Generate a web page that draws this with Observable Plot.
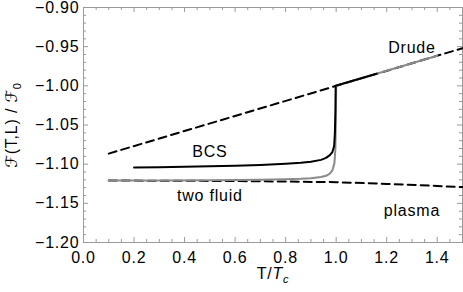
<!DOCTYPE html>
<html>
<head>
<meta charset="utf-8">
<script src="https://cdn.jsdelivr.net/npm/d3@7"></script>
<script src="https://cdn.jsdelivr.net/npm/@observablehq/plot@0.6"></script>
<style>
  html, body { margin: 0; padding: 0; background: #fff; }
</style>
</head>
<body>
<div id="chart"></div>
<script>
// Drude (dashed upper line)
const drudeT = [0.1, 1.5];
const drudeF = [-1.0865, -0.952];

// plasma (dashed lower line)
const plasmaT = [0.1, 0.4, 0.6, 0.8, 1.0, 1.2, 1.4, 1.5];
const plasmaF = [-1.1209, -1.1212, -1.1216, -1.1222, -1.1230, -1.1252, -1.1278, -1.1293];

// BCS (black solid)
const bcsT = [0.2, 0.3, 0.4, 0.5, 0.6, 0.7, 0.8, 0.86, 0.9, 0.94, 0.96, 0.975, 0.985, 0.992, 0.995, 0.997, 0.998, 1.16];
const bcsF = [-1.1042, -1.1038, -1.1033, -1.1027, -1.1020, -1.1010, -1.0995, -1.0983, -1.0970, -1.0945, -1.0920, -1.0885, -1.0845, -1.0770, -1.0600, -1.0300, -1.0000, -0.9846];

// two fluid (gray solid)
const twoT = [0.1, 0.3, 0.5, 0.7, 0.8, 0.86, 0.9, 0.94, 0.96, 0.975, 0.985, 0.993, 0.997, 0.999, 1.0, 1.40];
const twoF = [-1.1210, -1.1209, -1.1205, -1.1198, -1.1193, -1.1187, -1.1180, -1.1163, -1.1148, -1.1120, -1.1080, -1.0990, -1.0800, -1.0400, -1.0000, -0.9616];

// curve labels
const labelText = ["Drude", "BCS", "two fluid", "plasma"];
const labelT = [1.30, 0.50, 0.50, 1.30];
const labelF = [-0.952, -1.0839, -1.140, -1.159];

// ticks
const xMajor = [0.0, 0.2, 0.4, 0.6, 0.8, 1.0, 1.2, 1.4];
const xMinor = d3.range(0, 31).map(i => i * 0.05).filter(v => Math.abs(v * 5 - Math.round(v * 5)) > 1e-6);
const yMajor = [-1.20, -1.15, -1.10, -1.05, -1.00, -0.95, -0.90];
const yMinor = d3.range(0, 31).map(i => -1.2 + i * 0.01).filter(v => Math.abs(v * 20 - Math.round(v * 20)) > 1e-6);

const zip = (xs, ys) => xs.map((x, i) => ({x, y: ys[i]}));
const drude = zip(drudeT, drudeF);
const plasma = zip(plasmaT, plasmaF);
const bcs = zip(bcsT, bcsF);
const two = zip(twoT, twoF);
const labels = labelText.map((t, i) => ({t, x: labelT[i], y: labelF[i]}));

const W = 463, H = 292, mT = 7, mB = 50, mL = 83, mR = 1;
const innerH = H - mT - mB, innerW = W - mL - mR;
const MAJ = 5, MIN = 3;
const frameColor = "#9a9a9a";
const fmtY = d => (d < 0 ? "\u2212" : "") + Math.abs(d).toFixed(2);

const chart = Plot.plot({
  width: W, height: H,
  marginTop: mT, marginBottom: mB, marginLeft: mL, marginRight: mR,
  style: "font-family: 'Liberation Sans', Arial, Helvetica, sans-serif; font-size: 16px; letter-spacing: 0.8px; background: #fff; color: #000;",
  x: {domain: [0, 1.5]},
  y: {domain: [-1.2, -0.9]},
  marks: [
    Plot.frame({stroke: frameColor, strokeWidth: 1}),
    // ticks inside the frame (bottom/top/left/right)
    Plot.tickX(xMajor, {x: d => d, stroke: frameColor, insetTop: innerH - MAJ}),
    Plot.tickX(xMinor, {x: d => d, stroke: frameColor, insetTop: innerH - MIN}),
    Plot.tickX(xMajor, {x: d => d, stroke: frameColor, insetBottom: innerH - MAJ}),
    Plot.tickX(xMinor, {x: d => d, stroke: frameColor, insetBottom: innerH - MIN}),
    Plot.tickY(yMajor, {y: d => d, stroke: frameColor, insetRight: innerW - MAJ}),
    Plot.tickY(yMinor, {y: d => d, stroke: frameColor, insetRight: innerW - MIN}),
    Plot.tickY(yMajor, {y: d => d, stroke: frameColor, insetLeft: innerW - MAJ}),
    Plot.tickY(yMinor, {y: d => d, stroke: frameColor, insetLeft: innerW - MIN}),
    Plot.axisX({ticks: xMajor, tickSize: 0, tickPadding: 9, tickFormat: d => d.toFixed(1),
      label: "T/Tc", labelAnchor: "center", labelOffset: 36, labelArrow: "none", fontSize: 16}),
    Plot.axisY({ticks: yMajor, tickSize: 0, tickPadding: 4, tickFormat: fmtY,
      label: "F(T,L) / F0", labelAnchor: "center", labelOffset: 78, labelArrow: "none", fontSize: 16}),
    Plot.line(drude, {x: "x", y: "y", stroke: "#000", strokeWidth: 2, strokeDasharray: "8,5"}),
    Plot.line(plasma, {x: "x", y: "y", stroke: "#000", strokeWidth: 2, strokeDasharray: "8,5"}),
    Plot.line(two, {x: "x", y: "y", stroke: "#8a8a8a", strokeWidth: 2}),
    Plot.line(bcs, {x: "x", y: "y", stroke: "#000", strokeWidth: 2}),
    Plot.text(labels, {x: "x", y: "y", text: "t", fontSize: 16, fill: "#000"})
  ]
});

// typeset axis labels (script F, subscripts, italic)
const s = d3.select(chart);
s.select('g[aria-label="x-axis label"] text').each(function () {
  const t = d3.select(this);
  t.text(null);
  t.append("tspan").text("T/");
  t.append("tspan").attr("font-style", "italic").text("T");
  t.append("tspan").attr("font-style", "italic").attr("font-size", "11px").attr("dy", "4").text("c");
});
s.select('g[aria-label="y-axis label"] text').each(function () {
  const t = d3.select(this);
  t.text(null);
  t.append("tspan").attr("font-family", "'DejaVu Serif', 'DejaVu Sans', serif").attr("font-style", "italic").text("\u2131");
  t.append("tspan").text("(T,L) / ");
  t.append("tspan").attr("font-family", "'DejaVu Serif', 'DejaVu Sans', serif").attr("font-style", "italic").text("\u2131");
  t.append("tspan").attr("font-size", "11px").attr("dy", "4").text("0");
});

document.getElementById("chart").appendChild(chart);
</script>
</body>
</html>
